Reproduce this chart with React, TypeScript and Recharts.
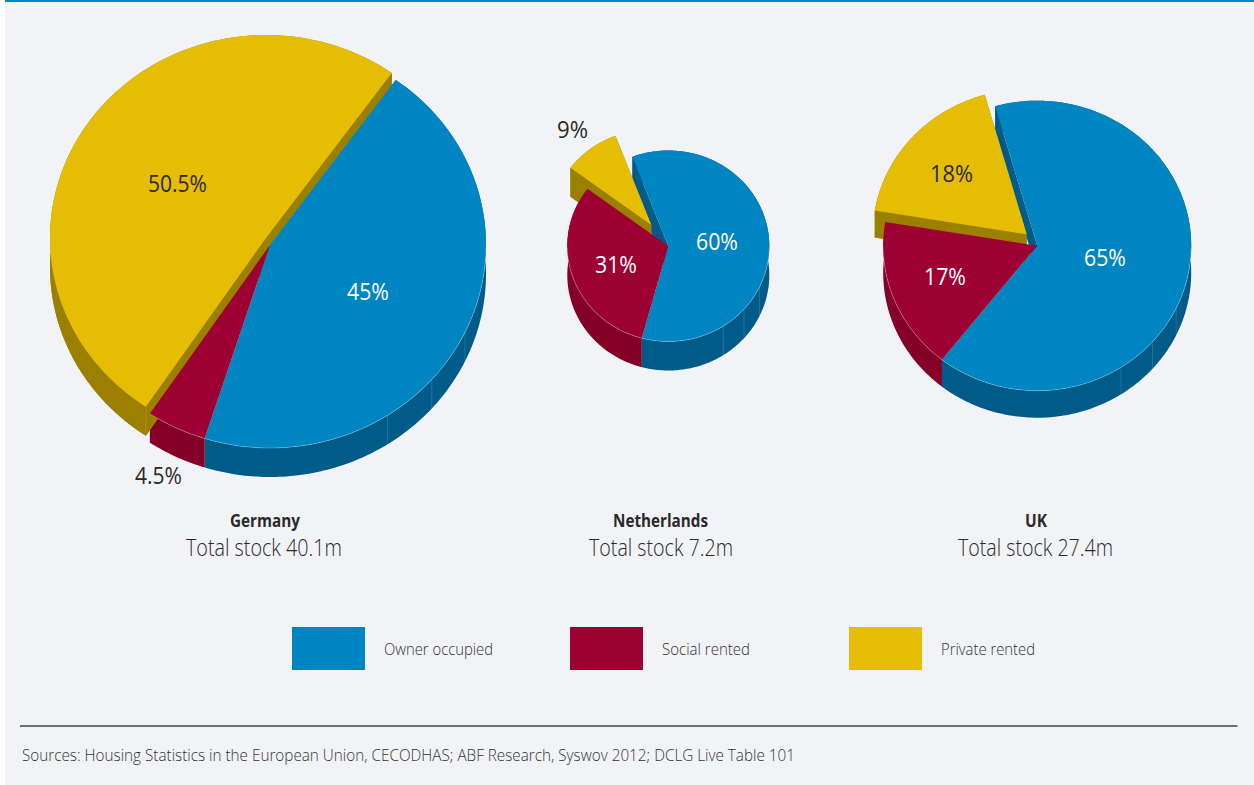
import { Fragment } from "react";
import { Legend, Pie, PieChart } from "recharts";

const categories = ["Owner occupied", "Social rented", "Private rented"];
const countries = ["Germany", "Netherlands", "UK"];
const totalStock = [40.1, 7.2, 27.4];
const germanyShares = [45, 4.5, 50.5];
const netherlandsShares = [60, 31, 9];
const ukShares = [65, 17, 18];
const shares = [germanyShares, netherlandsShares, ukShares];

const topColors = ["#0085c3", "#9d0033", "#e5bd05"];
const wallColors = ["#005b88", "#850029", "#9b8000"];
const INK = "#2b2a29";
const FONT = "'Open Sans', sans-serif";
const WIDTH = 1254;
const HEIGHT = 785;

// start is measured clockwise from twelve o'clock, on the unsquashed circle
const pieLayouts = [
  {
    cx: 270, cy: 245, rx: 216, ry: 203, depth: 29, start: 35.6,
    burst: { x: -4, y: -7 },
    seams: [[147, 131.5, 115.5], [], [213.8]],
    labels: [
      { x: 347, y: 300, w: 42, fill: "#fff" },
      { x: 135, y: 484, w: 47, fill: INK },
      { x: 148, y: 192, w: 59, fill: INK },
    ],
    title: { x: 230, w: 70 },
    stock: { x: 186, w: 156 },
  },
  {
    cx: 668.3, cy: 246, rx: 101, ry: 95.5, depth: 29, start: 339.2,
    burst: { x: -17, y: -21 },
    seams: [[147, 131.5, 115.5], [], []],
    labels: [
      { x: 696, y: 250, w: 42, fill: "#fff" },
      { x: 595, y: 272.5, w: 42, fill: "#fff" },
      { x: 557, y: 138, w: 31, fill: INK },
    ],
    title: { x: 613, w: 95 },
    stock: { x: 589, w: 144 },
  },
  {
    cx: 1037.2, cy: 245.7, rx: 154, ry: 145, depth: 27, start: 344.2,
    burst: { x: -10.5, y: -11.4 },
    seams: [[147, 131.5, 115.5], [], []],
    labels: [
      { x: 1084, y: 265.5, w: 42, fill: "#fff" },
      { x: 924, y: 285, w: 42, fill: "#fff" },
      { x: 930, y: 182, w: 43, fill: INK },
    ],
    title: { x: 1025, w: 22 },
    stock: { x: 958, w: 155 },
  },
];

const legendSpots = [
  { swatch: 292, text: 384, w: 109 },
  { swatch: 570, text: 662, w: 88 },
  { swatch: 849, text: 941, w: 94 },
];

const SOURCE_NOTE =
  "Sources: Housing Statistics in the European Union, CECODHAS; ABF Research, Syswov 2012; DCLG Live Table 101";

type Pt = [number, number];

const toRad = (deg: number) => (deg * Math.PI) / 180;

function arcPoints(cx: number, cy: number, rx: number, ry: number, from: number, to: number): Pt[] {
  const steps = Math.max(2, Math.ceil(Math.abs(from - to)));
  const pts: Pt[] = [];
  for (let i = 0; i <= steps; i++) {
    const a = toRad(from + ((to - from) * i) / steps);
    pts.push([cx + rx * Math.cos(a), cy - ry * Math.sin(a)]);
  }
  return pts;
}

const toPath = (pts: Pt[], close = true) =>
  pts.map((p, i) => `${i ? "L" : "M"}${p[0].toFixed(2)} ${p[1].toFixed(2)}`).join("") + (close ? "Z" : "");

// side of an extruded slice. Only faces that can show get drawn, otherwise
// a neighbour's hidden face pokes out past the shared vertical edge.
function SliceWall(props: any, pieIndex: number) {
  const layout = pieLayouts[pieIndex];
  const idx = categories.indexOf(props.name);
  const off = idx === 2 ? layout.burst : { x: 0, y: 0 };
  const cx = props.cx + off.x;
  const cy = props.cy + off.y;
  const rx = props.outerRadius;
  const ry = layout.ry;
  const d = layout.depth;
  const arc = arcPoints(cx, cy, rx, ry, props.startAngle, props.endAngle);
  const base = arc.map((p): Pt => [p[0], p[1] + d]);
  const first = arc[0];
  const last = arc[arc.length - 1];
  const band: Pt[] = [...arc, ...base.slice().reverse()];
  const startFace: Pt[] = [[cx, cy], first, [first[0], first[1] + d], [cx, cy + d]];
  const endFace: Pt[] = [[cx, cy], last, [last[0], last[1] + d], [cx, cy + d]];
  const baseFace: Pt[] = [[cx, cy + d], ...base];
  const faces = idx === 2 ? [baseFace, startFace, endFace, band] : idx === 0 ? [band, startFace] : [band];
  return (
    <g>
      {faces.map((f, i) => (
        <path key={i} d={toPath(f)} fill={wallColors[idx]} />
      ))}
      {layout.seams[idx].map((cw) => {
        const [p] = arcPoints(cx, cy, rx, ry, 90 - cw, 90 - cw);
        return (
          <line
            key={cw}
            x1={p[0]}
            y1={p[1]}
            x2={p[0]}
            y2={p[1] + d}
            stroke="#fff"
            strokeOpacity={0.2}
            strokeWidth={0.7}
          />
        );
      })}
    </g>
  );
}

function SliceTop(props: any, pieIndex: number) {
  const layout = pieLayouts[pieIndex];
  const idx = categories.indexOf(props.name);
  const off = idx === 2 ? layout.burst : { x: 0, y: 0 };
  const cx = props.cx + off.x;
  const cy = props.cy + off.y;
  const rx = props.outerRadius;
  const arc = arcPoints(cx, cy, rx, layout.ry, props.startAngle, props.endAngle);
  // pale rim only where the slice edge sits above its wall
  const rim = arc.filter((p) => p[1] > cy + 1);
  return (
    <g>
      <path d={toPath([[cx, cy], ...arc])} fill={topColors[idx]} />
      {rim.length > 1 && idx !== 2 && (
        <path d={toPath(rim, false)} fill="none" stroke="#fff" strokeOpacity={0.35} strokeWidth={0.7} />
      )}
    </g>
  );
}

function Txt({ x, y, w, size, weight = 400, fill = INK, children }: any) {
  return (
    <text
      x={x}
      y={y}
      textLength={w}
      lengthAdjust="spacingAndGlyphs"
      fontFamily={FONT}
      fontSize={size}
      fontWeight={weight}
      fill={fill}
    >
      {children}
    </text>
  );
}

function TenureLegend() {
  return (
    <svg width={WIDTH} height={60} style={{ display: "block" }}>
      {categories.map((name, i) => (
        <Fragment key={name}>
          <rect x={legendSpots[i].swatch} y={7} width={73} height={43} fill={topColors[i]} />
          <Txt x={legendSpots[i].text} y={35} w={legendSpots[i].w} size={17} weight={300} fill="#333">
            {name}
          </Txt>
        </Fragment>
      ))}
    </svg>
  );
}

export default function App() {
  return (
    <div style={{ position: "fixed", left: 0, top: 0, width: WIDTH, height: HEIGHT, background: "#fff" }}>
      <div style={{ position: "absolute", left: 5, top: 0, right: 0, bottom: 0, background: "#f1f3f6" }} />
      <div style={{ position: "absolute", left: 5, top: 0, right: 0, height: 2, background: "#0085c3" }} />
      <div style={{ position: "absolute", left: 0, top: 0 }}>
        <PieChart width={WIDTH} height={HEIGHT} margin={{ top: 0, right: 0, bottom: 0, left: 0 }}>
          {shares.map((values, p) => {
            const layout = pieLayouts[p];
            const rows = categories.map((name, i) => ({ name, value: values[i] }));
            const angleProps = {
              data: rows,
              dataKey: "value",
              nameKey: "name",
              cx: layout.cx,
              cy: layout.cy,
              innerRadius: 0,
              outerRadius: layout.rx,
              startAngle: 90 - layout.start,
              endAngle: 90 - layout.start - 360,
              stroke: "none",
              isAnimationActive: false,
              legendType: "none" as const,
            };
            return (
              <Fragment key={countries[p]}>
                <Pie {...angleProps} shape={(s: any) => SliceWall(s, p)} />
                <Pie
                  {...angleProps}
                  shape={(s: any) => SliceTop(s, p)}
                  labelLine={false}
                  label={(l: any) => {
                    const spot = layout.labels[l.index];
                    return (
                      <Txt x={spot.x} y={spot.y} w={spot.w} size={23} fill={spot.fill}>
                        {`${l.value}%`}
                      </Txt>
                    );
                  }}
                />
              </Fragment>
            );
          })}
          {countries.map((country, p) => (
            <Fragment key={country}>
              <Txt x={pieLayouts[p].title.x} y={527} w={pieLayouts[p].title.w} size={17} weight={700}>
                {country}
              </Txt>
              <Txt x={pieLayouts[p].stock.x} y={556} w={pieLayouts[p].stock.w} size={23} weight={300}>
                {`Total stock ${totalStock[p]}m`}
              </Txt>
            </Fragment>
          ))}
          <line x1={20} x2={1237.5} y1={726} y2={726} stroke="#444" strokeWidth={1.5} />
          <Txt x={22} y={761} w={773} size={16.5} weight={300} fill="#333">
            {SOURCE_NOTE}
          </Txt>
          <Legend
            content={() => <TenureLegend />}
            wrapperStyle={{ left: 0, top: 620, width: WIDTH, height: 60 }}
          />
        </PieChart>
      </div>
    </div>
  );
}
